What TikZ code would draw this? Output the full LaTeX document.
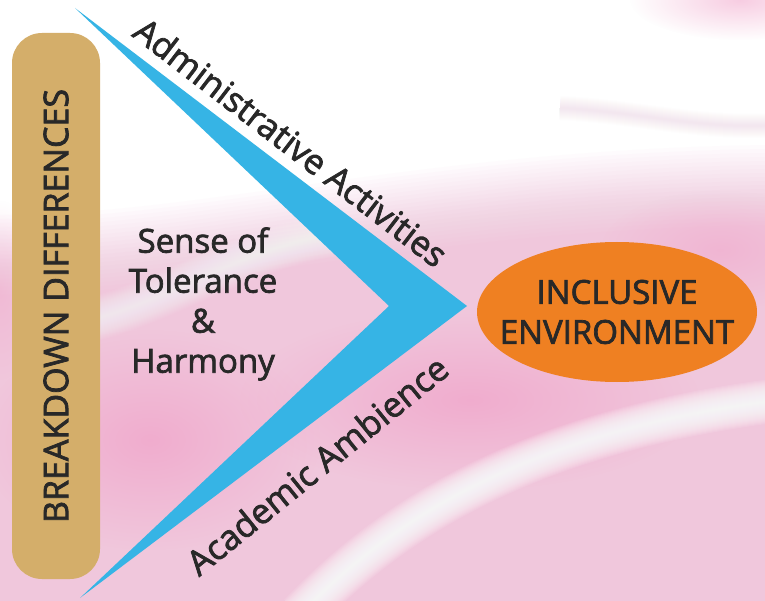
\documentclass[tikz,border=0pt]{standalone}
\usepackage{fontspec}
\setmainfont{Open Sans}
\newfontfamily\lblfont{Open Sans}[FakeBold=2.2]
\usetikzlibrary{shapes.geometric, fadings}

\definecolor{bartan}{RGB}{212,174,106}
\definecolor{arrowblue}{RGB}{54,180,229}
\definecolor{envorange}{RGB}{239,128,34}
\definecolor{txtgray}{RGB}{40,40,40}
\definecolor{pinkbg}{RGB}{240,155,197}

\tikzfading[name=softblob, inner color=transparent!0, outer color=transparent!100]

\tikzset{
  lbl/.style={text=txtgray, font=\lblfont\fontsize{33}{40}\selectfont, align=center, inner sep=0pt},
  armlbl/.style={lbl, font=\lblfont\fontsize{34.5}{40}\selectfont},
  band/.style={fill=pinkbg, draw=none},
  blob/.style={fill=pinkbg, draw=none, path fading=softblob}
}

\begin{document}
\begin{tikzpicture}[x=1pt, y=-1pt]
	\useasboundingbox (0,0) rectangle (765,601);
	% background
	\fill[white] (0,0) rectangle (765,601);
	\foreach \d in {0,4,...,80}{
		\fill[band, opacity=0.03, yshift=-\d pt] (0,215) .. controls (200,215) and (420,150) .. (765,145) -- (765,601) -- (0,601) -- cycle;
	}
	\fill[blob, opacity=0.6] (470,400) ellipse (230 and 90);
	\fill[blob, opacity=0.6] (150,440) ellipse (170 and 110);
	\fill[blob, opacity=0.4] (720,250) ellipse (120 and 60);
	\fill[blob, opacity=0.5] (740,0) ellipse (110 and 40);
	\fill[blob, opacity=0.3] (0,290) ellipse (40 and 90);
	\foreach \w in {2,4,...,44}{
		\draw[white, opacity=0.09, line width=\w pt] (300,615) .. controls (400,510) and (540,430) .. (780,400);
		\draw[white, opacity=0.05, line width=\w pt] (90,320) .. controls (170,300) and (240,250) .. (330,235);
	}
	\foreach \w in {2,4,...,24}{
		\draw[pinkbg, opacity=0.02, line width=\w pt] (560,108) .. controls (640,112) and (700,130) .. (780,125);
	}

	% left bar
	\node[fill=bartan, rounded corners=30pt, minimum width=88pt, minimum height=546pt, inner sep=0pt] (bar) at (56,306) {};
	\node[lbl, font=\lblfont\fontsize{34}{40}\selectfont, rotate=90] (breakdown) at (bar.center) {BREAKDOWN DIFFERENCES};

	% chevron
	\coordinate (ctop) at (75,8);
	\coordinate (cbot) at (80,598);
	\coordinate (ctip) at (467,306);
	\coordinate (cnotch) at (389,306);
	\fill[arrowblue] (ctop) -- (ctip) -- (cbot) -- (cnotch) -- cycle;

	% labels on the arms
	\node[armlbl, rotate=-37.5] (admin) at (291,142) {Administrative Activities};
	\node[armlbl, rotate=39] (academic) at (317,465) {Academic Ambience};

	% middle text
	\node[lbl] (tolerance) at (203,304) {Sense of\\Tolerance\\\&\\Harmony};

	% target
	\node[ellipse, fill=envorange, minimum width=280pt, minimum height=140pt, inner sep=0pt] (envnode) at (617,312) {};
	\node[lbl] (env) at (envnode.center) {INCLUSIVE\\ENVIRONMENT};
\end{tikzpicture}
\end{document}
